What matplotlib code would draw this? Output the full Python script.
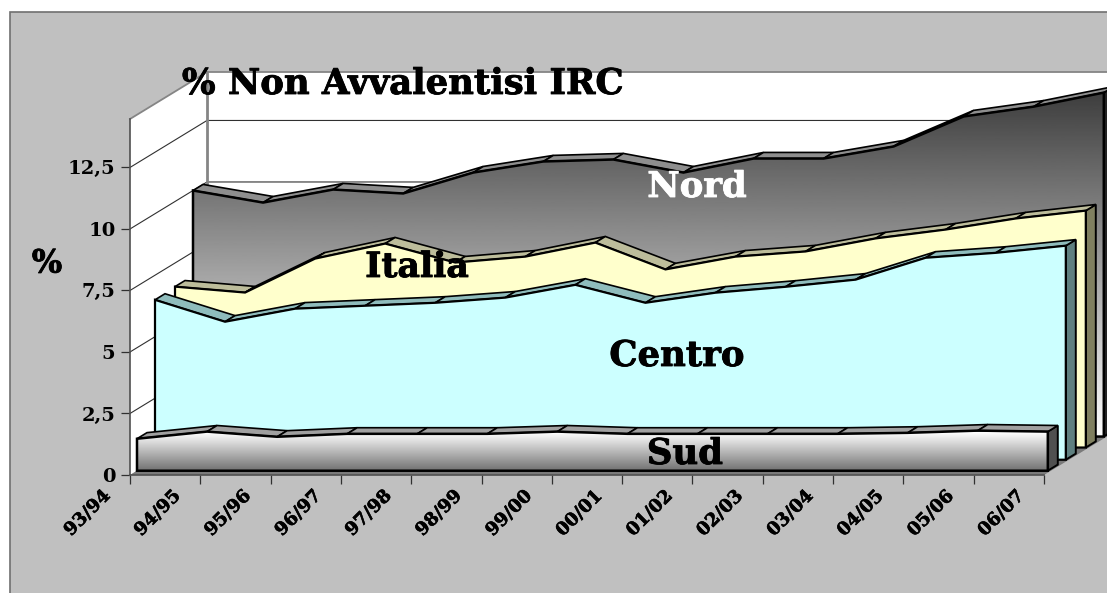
import numpy as np
import matplotlib
matplotlib.use("Agg")
import matplotlib.pyplot as plt
import matplotlib.patheffects as pe
from matplotlib.patches import Polygon, Rectangle
from matplotlib.transforms import Affine2D

W, H = 1107, 593
categories = ["93/94", "94/95", "95/96", "96/97", "97/98", "98/99", "99/00",
              "00/01", "01/02", "02/03", "03/04", "04/05", "05/06", "06/07"]
sud = [1.30, 1.59, 1.38, 1.50, 1.50, 1.50, 1.59, 1.50, 1.50, 1.50, 1.50, 1.54, 1.63, 1.59]
centro = [6.50, 5.61, 6.14, 6.26, 6.38, 6.59, 7.11, 6.38, 6.79, 7.03, 7.32, 8.21, 8.41, 8.70]
italia = [6.54, 6.30, 7.68, 8.29, 7.52, 7.76, 8.33, 7.24, 7.76, 7.97, 8.50, 8.86, 9.31, 9.63]
nord = [10.00, 9.51, 10.04, 9.88, 10.73, 11.18, 11.26, 10.73, 11.30, 11.30, 11.79, 13.01, 13.41, 13.98]
y_ticks = [0, 2.5, 5, 7.5, 10, 12.5]
y_labels = ["0", "2,5", "5", "7,5", "10", "12,5"]
Y_MAX = 14.47

plt.rcParams["font.family"] = ["DejaVu Serif"]
plt.rcParams["font.weight"] = "bold"

fig = plt.figure(figsize=(W / 100, H / 100), dpi=100, facecolor="white")
fig.add_artist(Rectangle((9.5 / W, -0.01), 1.02, 1 - 12.5 / H + 0.01, transform=fig.transFigure,
                         facecolor="#C0C0C0", edgecolor="#707070", linewidth=1.2, zorder=-10))

ax = fig.add_axes([130 / W, 1 - 475 / H, (1044 - 130) / W, (475 - 119) / H])
ax.patch.set_visible(False)

n = len(categories)
DX = 77 / ((1044 - 130) / (n - 1))   # full depth in category units
DY = 47 / ((475 - 119) / Y_MAX)      # full depth in value units
SERIES_WIDTH = 0.9965                # series are slightly narrower than the axis


def proj(i, v, d):
    return (i + d * DX, v + d * DY)


def sproj(i, v, d):
    return proj(i * SERIES_WIDTH, v, d)


def poly(pts, fc, ec="black", lw=1.4, z=1.0, **kw):
    p = Polygon(pts, closed=True, facecolor=fc, edgecolor=ec, linewidth=lw, zorder=z,
                clip_on=False, joinstyle="miter", **kw)
    ax.add_patch(p)
    return p


# walls and floor
poly([proj(0, 0, 0), proj(0, Y_MAX, 0), proj(0, Y_MAX, 1), proj(0, 0, 1)], "white", "none", 0, 0.1)
poly([proj(0, 0, 1), proj(0, Y_MAX, 1), proj(n - 1, Y_MAX, 1), proj(n - 1, 0, 1)], "white", "none", 0, 0.1)
poly([proj(0, 0, 0), proj(n - 1, 0, 0), proj(n - 1, 0, 1), proj(0, 0, 1)], "#7A7A7A", "none", 0, 0.2)
for v in y_ticks[1:]:
    a, b, c = proj(0, v, 0), proj(0, v, 1), proj(n - 1, v, 1)
    ax.plot([a[0], b[0], c[0]], [a[1], b[1], c[1]], color="#303030", lw=0.8, zorder=0.3, clip_on=False)
a, b, c = proj(0, Y_MAX, 0), proj(0, Y_MAX, 1), proj(n - 1, Y_MAX, 1)
ax.plot([a[0], b[0], c[0]], [a[1], b[1], c[1]], color="#858585", lw=1.3, zorder=0.4, clip_on=False)
b0 = proj(0, 0, 1)
ax.plot([b0[0], b[0]], [b0[1], b[1]], color="#858585", lw=2, zorder=0.4, clip_on=False)


def gradient(clip, v_top, v_bottom, c_top, c_bottom, z):
    g = np.linspace(c_top, c_bottom, 256)[:, None]
    im = ax.imshow(g, extent=[-1, n + 2, v_bottom, v_top], cmap="gray", vmin=0, vmax=255,
                   aspect="auto", zorder=z, interpolation="bilinear")
    im.set_clip_box(fig.bbox)
    im.set_clip_path(clip)


def area(values, d0, d1, face, strip, side, z, grad=None):
    xs = range(n)
    front = [sproj(i, values[i], d0) for i in xs]
    base = [sproj(n - 1, 0, d0), sproj(0, 0, d0)]
    # right side face
    poly([sproj(n - 1, values[-1], d0), sproj(n - 1, values[-1], d1), sproj(n - 1, 0, d1), sproj(n - 1, 0, d0)],
         side, z=z)
    # top strips
    for i in range(n - 1):
        poly([sproj(i, values[i], d0), sproj(i, values[i], d1),
              sproj(i + 1, values[i + 1], d1), sproj(i + 1, values[i + 1], d0)], strip, lw=1.2, z=z + 0.01)
    if grad is None:
        poly(front + base, face, lw=1.6, z=z + 0.02)
    else:
        p = poly(front + base, "none", "none", 0, z + 0.02)
        gradient(p, *grad, z + 0.03)
        poly(front + base, "none", lw=1.8, z=z + 0.04)


area(nord, 63 / 77, 73 / 77, None, "#8E8E8E", "#222222", 1.0, (15.65, 1.5, 60, 255))
area(italia, 45 / 77, 55 / 77, "#FFFFCC", "#BDBD9B", "#808060", 1.1)
area(centro, 25 / 77, 35 / 77, "#CCFFFF", "#8FBCBC", "#5F8080", 1.2)
area(sud, 7 / 77, 17 / 77, None, "#A0A0A0", "#505050", 1.3, (1.75, 0.1, 255, 105))

ax.set_xlim(0, n - 1)
ax.set_ylim(0, Y_MAX)
for s in ["top", "right"]:
    ax.spines[s].set_visible(False)
for s in ["left", "bottom"]:
    ax.spines[s].set_color("#505050")
    ax.spines[s].set_linewidth(1.2)
ax.spines["left"].set_zorder(2)
ax.spines["bottom"].set_zorder(2)

ax.set_yticks(y_ticks, y_labels)
ax.set_xticks(range(n), categories)
ax.tick_params(axis="y", length=6.5, width=0.9, color="#303030", labelsize=14, pad=4)
ax.tick_params(axis="x", length=6.5, width=0.9, color="#303030", labelsize=13, pad=2)
shift = Affine2D().translate(-29, 0)
for lab in ax.get_xticklabels():
    lab.set_rotation(45)
    lab.set_ha("right")
    lab.set_va("top")
    lab.set_rotation_mode("anchor")
    lab.set_transform(lab.get_transform() + shift)
    lab.set_path_effects([pe.withStroke(linewidth=0.4, foreground="black")])


def px_text(x, y, s, size, color="black"):
    t = fig.text(x / W, 1 - y / H, s, fontsize=size, color=color, ha="center", va="center",
                 fontweight="bold", zorder=5)
    t.set_path_effects([pe.withStroke(linewidth=0.6, foreground=color)])


px_text(403, 84, "% Non Avvalentisi IRC", 25.5)
px_text(697, 187, "Nord", 25.5, "white")
px_text(417, 267, "Italia", 25)
px_text(677, 356, "Centro", 25.5)
px_text(685, 454, "Sud", 25.5)
px_text(47, 264, "%", 23)

fig.savefig("out.png", dpi=100, facecolor=fig.get_facecolor())
